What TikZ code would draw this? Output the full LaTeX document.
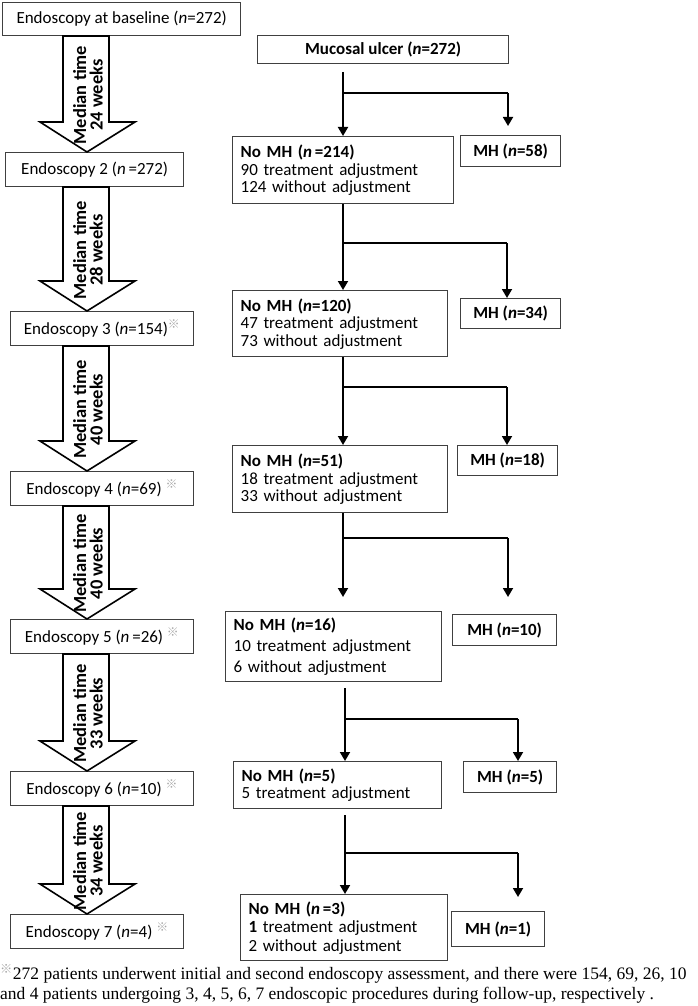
\documentclass[tikz,border=0pt]{standalone}
\usepackage{fontspec}
\setmainfont{Carlito}
\newfontfamily\serifft{Liberation Serif}
\newfontfamily\cjk{Noto Sans CJK SC}
\usetikzlibrary{arrows.meta,calc}
\newcommand\refmark{{\cjk\color{black!35}\textsuperscript{※}}}
\newcommand\nn{\textit{n}}
\newcommand\blockarr[3]{%
  \draw[barrow] (63,#1) -- (109,#1) -- (109,#2-30) -- (135,#2-30) -- (87,#2) -- (40,#2-30) -- (63,#2-30) -- cycle;
  \node[atext] at (88,{(#1+#2)/2+1}) {Median time\\#3 weeks};}
\begin{document}
\begin{tikzpicture}[x=1pt,y=-1pt,
  font=\fontsize{17}{17.5}\selectfont,
  box/.style={draw=black!75, line width=1.3pt, inner sep=0pt, anchor=north west, minimum width=#1},
  lbox/.style={draw=black!75, line width=1.3pt, anchor=north west, align=left, inner xsep=8pt, inner ysep=0pt, text width=#1-16pt},
  bbold/.style={font=\fontsize{17}{17.5}\selectfont\bfseries},
  barrow/.style={draw=black, line width=1.6pt, fill=white, line join=miter},
  atext/.style={rotate=90, font=\fontsize{18.5}{16.5}\selectfont\bfseries, align=center},
  conn/.style={draw=black, line width=1.8pt},
  arr/.style={conn, -{Triangle[length=9pt,width=10pt]}}]
\useasboundingbox (0,0) rectangle (697,1006);

% left column
\node[box=238pt, minimum height=33pt] (L1) at (2,2) {Endoscopy at baseline (\nn=272)};
\node[box=178pt, minimum height=34pt] (L2) at (5,152) {Endoscopy 2 (\nn\,=272)};
\node[box=183pt, minimum height=34pt] (L3) at (10,311) {Endoscopy 3 (\nn=154)\refmark};
\node[box=183pt, minimum height=34pt] (L4) at (10,471) {Endoscopy 4 (\nn=69) \refmark};
\node[box=183pt, minimum height=34pt] (L5) at (10,619) {Endoscopy 5 (\nn\,=26) \refmark};
\node[box=183pt, minimum height=34pt] (L6) at (10,771) {Endoscopy 6 (\nn=10) \refmark};
\node[box=173pt, minimum height=34pt] (L7) at (10,914) {Endoscopy 7 (\nn=4) \refmark};

\blockarr{36}{152}{24}
\blockarr{187}{311}{28}
\blockarr{346}{471}{40}
\blockarr{506}{619}{40}
\blockarr{654}{771}{33}
\blockarr{806}{914}{34}

% right column
\node[box=251pt, minimum height=28pt, bbold] (U) at (257,35) {Mucosal ulcer (\nn=272)};

\node[lbox=221pt, minimum height=67pt] (N1) at (232,136) {\textbf{No MH (\nn\,=214)}\\90 treatment adjustment\\124 without adjustment};
\node[box=100pt, minimum height=31pt, bbold] (M1) at (460,135) {MH (\nn=58)};

\node[lbox=215pt, minimum height=66pt] (N2) at (232,290) {\textbf{No MH (\nn=120)}\\47 treatment adjustment\\73 without adjustment};
\node[box=100pt, minimum height=30pt, bbold] (M2) at (460,298) {MH (\nn=34)};

\node[lbox=215pt, minimum height=67pt] (N3) at (232,445) {\textbf{No MH (\nn=51)}\\18 treatment adjustment\\33 without adjustment};
\node[box=100pt, minimum height=30pt, bbold] (M3) at (457,445) {MH (\nn=18)};

\node[lbox=216pt, minimum height=70pt, font=\fontsize{17}{21}\selectfont] (N4) at (225,611) {\textbf{No MH (\nn=16)}\\10 treatment adjustment\\6 without adjustment};
\node[box=104pt, minimum height=31pt, bbold] (M4) at (452,614) {MH (\nn=10)};

\node[lbox=208pt, minimum height=47pt] (N5) at (233,761) {\textbf{No MH (\nn=5)}\\5 treatment adjustment};
\node[box=93pt, minimum height=31pt, bbold] (M5) at (463,761) {MH (\nn=5)};

\node[lbox=207pt, minimum height=66pt, font=\fontsize{17}{18.5}\selectfont] (N6) at (240,894) {\textbf{No MH (\nn\,=3)}\\\textbf{1} treatment adjustment\\2 without adjustment};
\node[box=93pt, minimum height=35pt, bbold] (M6) at (451,911) {MH (\nn=1)};

% connectors
\coordinate (s1) at (343,72);
\coordinate (b1) at (343,93);
\coordinate (r1) at (508,93);
\coordinate (e1) at (508,126);
\draw[conn] (s1) -- (b1) -- (r1);
\draw[arr] (b1) -- (N1.north -| b1);
\draw[arr] (r1) -- (e1);

\coordinate (b2) at (343,243);
\coordinate (r2) at (507,243);
\draw[conn] (N1.south -| b2) -- (b2) -- (r2);
\draw[arr] (b2) -- (N2.north -| b2);
\draw[arr] (r2) -- (M2.north -| r2);

\coordinate (b3) at (343,387);
\coordinate (r3) at (507,387);
\draw[conn] (N2.south -| b3) -- (b3) -- (r3);
\draw[arr] (b3) -- (N3.north -| b3);
\draw[arr] (r3) -- (M3.north -| r3);

\coordinate (b4) at (343,538);
\coordinate (r4) at (508,538);
\coordinate (e4l) at (343,597);
\coordinate (e4r) at (508,597);
\draw[conn] (N3.south -| b4) -- (b4) -- (r4);
\draw[arr] (b4) -- (e4l);
\draw[arr] (r4) -- (e4r);

\coordinate (s5) at (345,688);
\coordinate (b5) at (345,719);
\coordinate (r5) at (518,719);
\draw[conn] (s5) -- (b5) -- (r5);
\draw[arr] (b5) -- (N5.north -| b5);
\draw[arr] (r5) -- (M5.north -| r5);

\coordinate (s6) at (345,815);
\coordinate (b6) at (345,853);
\coordinate (r6) at (518,853);
\coordinate (e6) at (518,897);
\draw[conn] (s6) -- (b6) -- (r6);
\draw[arr] (b6) -- (N6.north -| b6);
\draw[arr] (r6) -- (e6);

% footnote
\node[anchor=west, inner sep=0pt, font=\serifft\fontsize{17.5}{20}\selectfont, align=left] (fn) at (0,984)
 {\refmark272 patients underwent initial and second endoscopy assessment, and there were 154, 69, 26, 10\\and 4 patients undergoing 3, 4, 5, 6, 7 endoscopic procedures during follow-up, respectively .};
\end{tikzpicture}
\end{document}
